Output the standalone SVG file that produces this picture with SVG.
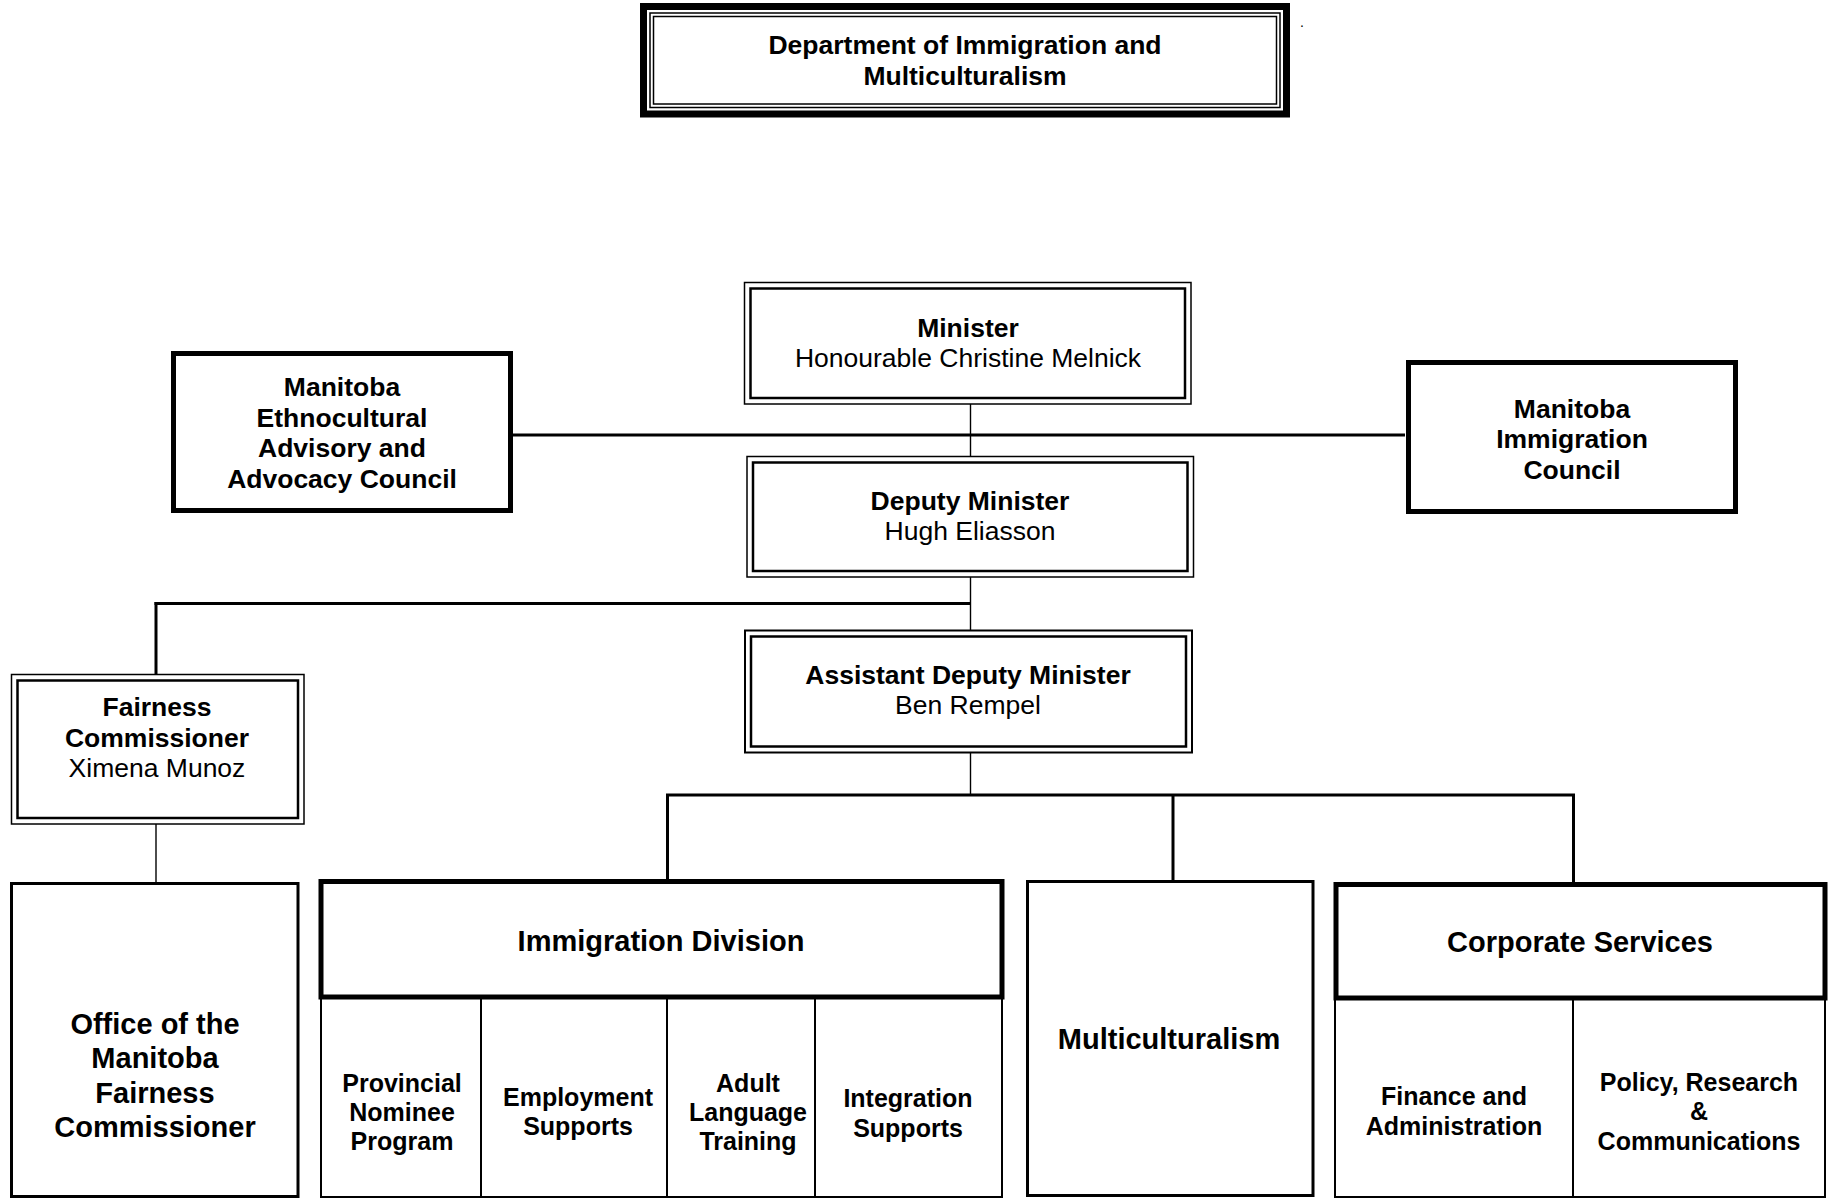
<svg xmlns="http://www.w3.org/2000/svg" width="1828" height="1200" viewBox="0 0 1828 1200">
<style>
text{font-family:"Liberation Sans",Arial,sans-serif;fill:#000;text-anchor:middle}
.b{font-weight:bold}
.f26{font-size:26.5px}
.f25{font-size:25px}
.f29{font-size:29px}
.box{fill:#fff;stroke:#000}
.thin{fill:none;stroke:#000;stroke-width:1.5}
.inner{fill:none;stroke:#000;stroke-width:2.5}
.heavy{stroke-width:5}
.med{stroke-width:3}
.sub{fill:#fff;stroke:#000;stroke-width:2}
.conn line{stroke:#000}
.c-thin{stroke-width:1.4}
.c-thick{stroke-width:3}
</style>
<rect width="1828" height="1200" fill="#fff"/>

<g id="connectors" class="conn">
  <line class="c-thin" x1="970.5" y1="404" x2="970.5" y2="456"/>
  <line class="c-thick" x1="513" y1="435" x2="1405" y2="435"/>
  <line class="c-thin" x1="970.5" y1="577" x2="970.5" y2="630"/>
  <line class="c-thick" x1="154.5" y1="603.5" x2="971" y2="603.5"/>
  <line class="c-thick" x1="156" y1="602" x2="156" y2="674"/>
  <line class="c-thin" x1="156" y1="824" x2="156" y2="882"/>
  <line class="c-thin" x1="970.5" y1="753" x2="970.5" y2="795"/>
  <line class="c-thick" x1="666" y1="795" x2="1575" y2="795"/>
  <line class="c-thick" x1="667.5" y1="795" x2="667.5" y2="880"/>
  <line class="c-thick" x1="1173" y1="795" x2="1173" y2="880"/>
  <line class="c-thick" x1="1573.5" y1="795" x2="1573.5" y2="883"/>
</g>

<g id="department">
  <rect x="643.5" y="6.5" width="643" height="107.5" fill="#fff" stroke="#000" stroke-width="7"/>
  <rect x="650" y="13" width="630" height="94.5" class="thin"/>
  <rect x="653.5" y="16.5" width="623" height="87.5" class="thin"/>
  <text class="b f26" x="965" y="54">Department of Immigration and</text>
  <text class="b f26" x="965" y="85">Multiculturalism</text>
  <text style="font-size:14px" x="1302" y="27">.</text>
</g>

<g id="minister">
  <rect x="744.5" y="282.5" width="446.5" height="121.5" class="box" stroke-width="1.5"/>
  <rect x="750.5" y="288.5" width="434.5" height="109.5" class="inner"/>
  <text class="b f26" x="968" y="337">Minister</text>
  <text class="f26" x="968" y="367">Honourable Christine Melnick</text>
</g>

<g id="ethnocultural-council">
  <rect x="173.5" y="353.5" width="337" height="157" class="box heavy"/>
  <text class="b f26" x="342" y="396">Manitoba</text>
  <text class="b f26" x="342" y="427">Ethnocultural</text>
  <text class="b f26" x="342" y="457">Advisory and</text>
  <text class="b f26" x="342" y="488">Advocacy Council</text>
</g>

<g id="immigration-council">
  <rect x="1408.5" y="362.5" width="327" height="149" class="box heavy"/>
  <text class="b f26" x="1572" y="418">Manitoba</text>
  <text class="b f26" x="1572" y="448">Immigration</text>
  <text class="b f26" x="1572" y="479">Council</text>
</g>

<g id="deputy-minister">
  <rect x="747" y="456.5" width="446.5" height="120.5" class="box" stroke-width="1.5"/>
  <rect x="753" y="462.5" width="434.5" height="108.5" class="inner"/>
  <text class="b f26" x="970" y="510">Deputy Minister</text>
  <text class="f26" x="970" y="540">Hugh Eliasson</text>
</g>

<g id="assistant-deputy-minister">
  <rect x="745" y="630.5" width="447" height="122" class="box" stroke-width="2"/>
  <rect x="751" y="636.5" width="435" height="110" class="inner"/>
  <text class="b f26" x="968" y="684">Assistant Deputy Minister</text>
  <text class="f26" x="968" y="714">Ben Rempel</text>
</g>

<g id="fairness-commissioner">
  <rect x="11.5" y="674.5" width="292.5" height="149.5" class="box" stroke-width="1.5"/>
  <rect x="17.5" y="680.5" width="280.5" height="137.5" class="inner"/>
  <text class="b f26" x="157" y="716">Fairness</text>
  <text class="b f26" x="157" y="747">Commissioner</text>
  <text class="f26" x="157" y="777">Ximena Munoz</text>
</g>

<g id="office-fairness-commissioner">
  <rect x="11.5" y="883.5" width="286.5" height="313" class="box med"/>
  <text class="b f29" x="155" y="1034">Office of the</text>
  <text class="b f29" x="155" y="1068">Manitoba</text>
  <text class="b f29" x="155" y="1103">Fairness</text>
  <text class="b f29" x="155" y="1137">Commissioner</text>
</g>

<g id="immigration-division">
  <rect x="321" y="997" width="160" height="200" class="sub"/>
  <rect x="481" y="997" width="186" height="200" class="sub"/>
  <rect x="667" y="997" width="148" height="200" class="sub"/>
  <rect x="815" y="997" width="187" height="200" class="sub"/>
  <rect x="321" y="881.5" width="681" height="115.5" class="box heavy"/>
  <text class="b f29" x="661" y="951">Immigration Division</text>
  <text class="b f25" x="402" y="1092">Provincial</text>
  <text class="b f25" x="402" y="1121">Nominee</text>
  <text class="b f25" x="402" y="1150">Program</text>
  <text class="b f25" x="578" y="1106">Employment</text>
  <text class="b f25" x="578" y="1135">Supports</text>
  <text class="b f25" x="748" y="1092">Adult</text>
  <text class="b f25" x="748" y="1121">Language</text>
  <text class="b f25" x="748" y="1150">Training</text>
  <text class="b f25" x="908" y="1107">Integration</text>
  <text class="b f25" x="908" y="1137">Supports</text>
</g>

<g id="multiculturalism">
  <rect x="1027.5" y="881.5" width="285.5" height="314" class="box med"/>
  <text class="b f29" x="1169" y="1049">Multiculturalism</text>
</g>

<g id="corporate-services">
  <rect x="1335" y="998" width="238" height="199" class="sub"/>
  <rect x="1573" y="998" width="252" height="199" class="sub"/>
  <rect x="1336" y="884.5" width="489" height="113.5" class="box heavy"/>
  <text class="b f29" x="1580" y="952">Corporate Services</text>
  <text class="b f25" x="1454" y="1105">Finance and</text>
  <text class="b f25" x="1454" y="1135">Administration</text>
  <text class="b f25" x="1699" y="1091">Policy, Research</text>
  <text class="b f25" x="1699" y="1120">&amp;</text>
  <text class="b f25" x="1699" y="1150">Communications</text>
</g>
</svg>
